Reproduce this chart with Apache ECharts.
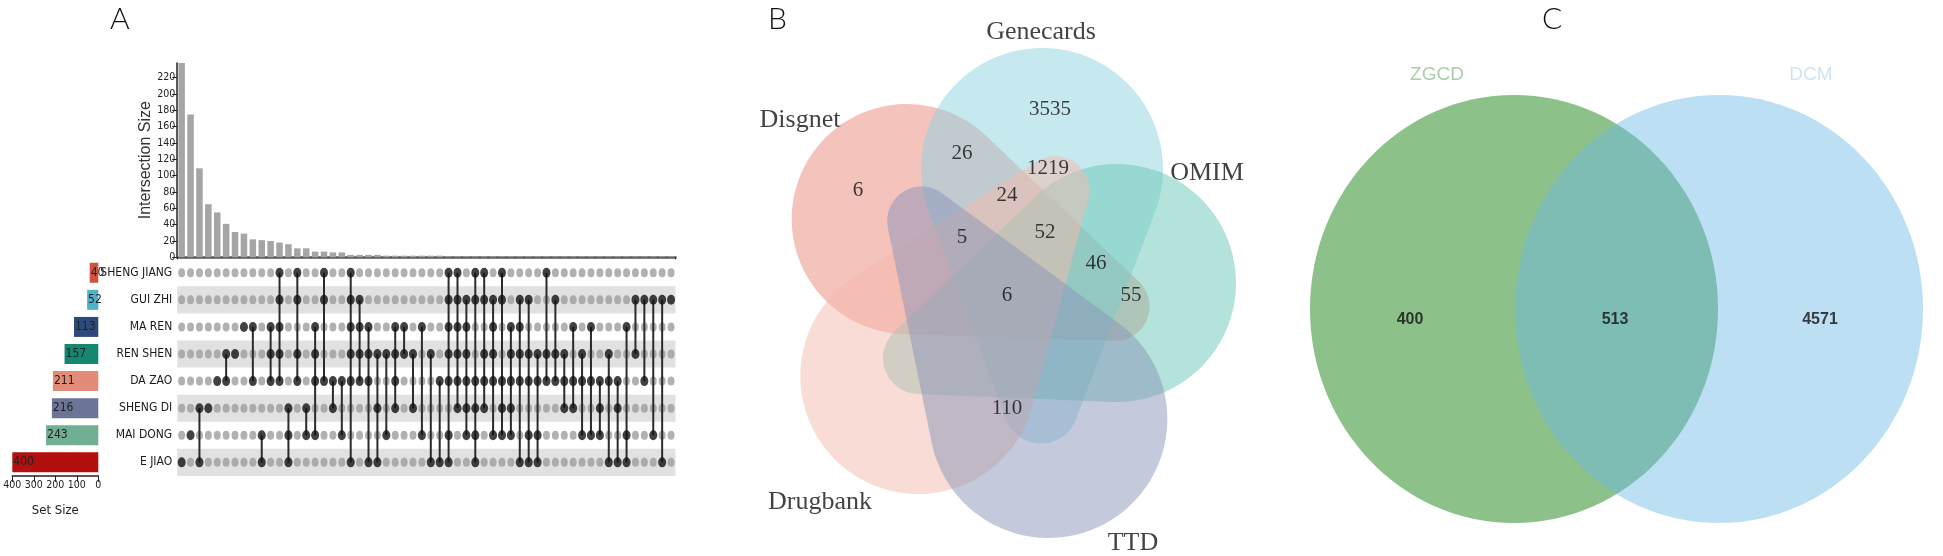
<!DOCTYPE html>
<html>
<head>
<meta charset="utf-8">
<script src="https://cdn.jsdelivr.net/npm/echarts@6/dist/echarts.min.js"></script>
<style>html,body{margin:0;padding:0;background:#fff;}#c{width:1943px;height:556px;}</style>
</head>
<body>
<div id="c"></div>
<script>
// ================= DATA =================
// Panel A (UpSet)
const setNames = ['SHENG JIANG', 'GUI ZHI', 'MA REN', 'REN SHEN', 'DA ZAO', 'SHENG DI', 'MAI DONG', 'E JIAO'];
const setSizes = [40, 52, 113, 157, 211, 216, 243, 400];
const setSizeTicks = [0, 100, 200, 300, 400];
const intersectionTicks = [0, 20, 40, 60, 80, 100, 120, 140, 160, 180, 200, 220];
// membership of each intersection column (indices into setNames)
const intersectionSets = [
  [7], [6], [5, 7], [5], [4], [3, 4], [3], [2], [2, 4], [6, 7],
  [2, 3, 4], [0, 1, 2, 3, 4], [5, 6, 7], [0, 1, 3, 4], [5, 6], [2, 3, 4, 6], [0, 1, 4], [4, 5], [4, 6], [0, 1, 2, 3, 4, 7],
  [1, 2, 3, 4], [2, 3, 4, 7], [3, 5, 7], [3, 6], [2, 3, 4, 5], [2, 3], [3, 5], [2, 6], [3, 7], [4, 7],
  [0, 1, 2, 3, 4, 6, 7], [0, 1, 2, 3, 4, 5], [1, 2, 3, 4, 5, 6], [0, 1, 4, 5, 6, 7], [0, 1, 3, 4, 5], [1, 2, 3, 4, 6], [0, 1, 4, 5, 6], [2, 3, 4, 5, 6], [1, 2, 3, 4, 7], [1, 3, 4, 6, 7],
  [3, 4, 6, 7], [0, 3, 4], [1, 3, 4], [3, 4, 5], [2, 4, 5], [3, 4, 6], [2, 4, 6], [4, 5, 6], [3, 4, 7], [4, 5, 7],
  [2, 6, 7], [1, 3], [1, 4], [1, 6], [1, 7], [1]
];
const intersectionSizes = [
  238, 175, 109, 65, 55, 41, 31, 29, 22, 21,
  20, 18, 16, 11, 11, 7, 7, 6, 6, 3,
  3, 3, 3, 2, 2, 2, 2, 2, 2, 2,
  1, 1, 1, 1, 1, 1, 1, 1, 1, 1,
  1, 1, 1, 1, 1, 1, 1, 1, 1, 1,
  1, 1, 1, 1, 1, 1
];

// Panel B (five-set Venn)
const vennBSets = ['Disgnet', 'Genecards', 'OMIM', 'Drugbank', 'TTD'];
const vennBRegions = ['Genecards', 'Disgnet∩Genecards', 'Genecards∩Drugbank', 'Disgnet', 'Disgnet∩Genecards∩Drugbank',
  'Genecards∩OMIM∩Drugbank', 'Disgnet∩Genecards∩Drugbank∩TTD', 'Genecards∩OMIM∩Drugbank∩Disgnet', 'Disgnet∩OMIM',
  'All five', 'Genecards∩TTD∩Drugbank'];
const vennBCounts = [3535, 26, 1219, 6, 24, 52, 5, 46, 55, 6, 110];

// Panel C (two-set Venn)
const vennCSets = ['ZGCD', 'DCM'];
const vennCRegions = ['ZGCD only', 'ZGCD∩DCM', 'DCM only'];
const vennCCounts = [400, 513, 4571];

// ================= LAYOUT / STYLE =================
const NARROW = "'Liberation Sans Narrow','Arial Narrow','DejaVu Sans Condensed',sans-serif";
const SERIF = "'Liberation Serif','Times New Roman',serif";
const SANS = "'Liberation Sans',Arial,sans-serif";
const setColors = ['#cf533f', '#4fb2c9', '#2e4a7b', '#13876f', '#e38b79', '#6c7597', '#70af94', '#b40f0f'];

// five-set shapes: head centre, head radius, tail centre, tail radius (page pixels)
const vennBShapes = [
  { h: [906.7, 219], R: 115, t: [1115, 306.5], r: 34.5, color: 'rgba(233,135,121,0.5)' },
  { h: [1042, 169], R: 121, t: [1041, 406], r: 37.5, color: 'rgba(141,211,225,0.5)' },
  { h: [1117, 283], R: 119, t: [919, 358], r: 36, color: 'rgba(103,199,181,0.5)' },
  { h: [918.3, 376], R: 118, t: [1055, 190.6], r: 34.5, color: 'rgba(243,185,171,0.5)' },
  { h: [1048.3, 419], R: 119, t: [921.7, 221], r: 34.5, color: 'rgba(137,147,183,0.5)' }
];
const vennBLabelPos = [[1050, 109], [962, 153], [1048, 168], [858, 190], [1007, 195], [1045, 232], [962, 237], [1096, 263], [1131, 295], [1007, 295], [1007, 408]];
const vennBSetLabelPos = [[800, 120], [1041, 32], [1207, 173], [820, 502], [1133, 543]];

const vennCCircles = [
  { c: [1514, 309], rx: 204, ry: 214, color: '#8cc28a' },
  { c: [1719, 309], rx: 204, ry: 214, color: 'rgba(109,184,229,0.45)' }
];
const vennCLabelPos = [[1410, 320], [1615, 320], [1820, 320]];
const vennCSetLabelPos = [[1437, 75], [1811, 75]];
const vennCSetColors = ['#93c292', '#c2ddf1'];

// ================= BUILD =================
const colNames = intersectionSets.map(s => s.map(i => setNames[i]).join(' & '));
const grayDots = [], blackDots = [];
intersectionSets.forEach((s, c) => {
  for (let r = 0; r < setNames.length; r++) {
    (s.indexOf(r) >= 0 ? blackDots : grayDots).push([c, r]);
  }
});
const linkData = intersectionSets.map((s, c) => [c, Math.min.apply(null, s), Math.max.apply(null, s)]);

function eggPoints(h, t, R, r, n) {
  const dx = t[0] - h[0], dy = t[1] - h[1];
  const L = Math.hypot(dx, dy);
  const ang = Math.atan2(dy, dx);
  const a = Math.acos((R - r) / L);
  const pts = [];
  for (let i = 0; i <= n; i++) {
    const th = ang + a + (2 * Math.PI - 2 * a) * i / n;
    pts.push([h[0] + R * Math.cos(th), h[1] + R * Math.sin(th)]);
  }
  for (let i = 0; i <= n; i++) {
    const th = ang - a + 2 * a * i / n;
    pts.push([t[0] + r * Math.cos(th), t[1] + r * Math.sin(th)]);
  }
  return pts;
}

const chart = echarts.init(document.getElementById('c'), null, { renderer: 'canvas', width: 1943, height: 556 });

const option = {
  backgroundColor: '#ffffff',
  animation: false,
  graphic: [
    { type: 'text', left: 110, top: 4, style: { text: 'A', font: '300 30px Lato, "Noto Sans", sans-serif', fill: '#111' } },
    { type: 'text', left: 768, top: 4, style: { text: 'B', font: '300 30px Lato, "Noto Sans", sans-serif', fill: '#111' } },
    { type: 'text', left: 1542, top: 4, style: { text: 'C', font: '300 30px Lato, "Noto Sans", sans-serif', fill: '#111' } }
  ],
  grid: [
    { left: 177.2, top: 63, width: 498.3, height: 194.3 },
    { left: 177.2, top: 259.2, width: 498.3, height: 216.7 },
    { left: 12.3, top: 259.2, width: 86, height: 216.7 },
    { left: 0, top: 0, width: 1943, height: 556 }
  ],
  xAxis: [
    { gridIndex: 0, type: 'category', data: colNames,
      axisLine: { lineStyle: { color: '#555', width: 2.5 } },
      axisTick: { show: true, length: 2, lineStyle: { color: '#222' } },
      axisLabel: { show: false } },
    { gridIndex: 1, type: 'category', data: colNames, show: false },
    { gridIndex: 2, type: 'value', inverse: true, min: 0, max: 400, interval: 100,
      axisLine: { show: true, lineStyle: { color: '#222', width: 1.5 } },
      axisTick: { show: true, length: 6, lineStyle: { color: '#222' } },
      axisLabel: { fontFamily: NARROW, fontSize: 10.5, color: '#222', margin: 4, customValues: setSizeTicks,
        showMinLabel: true, showMaxLabel: true, hideOverlap: false },
      splitLine: { show: false },
      name: 'Set Size', nameLocation: 'middle', nameGap: 28,
      nameTextStyle: { fontFamily: NARROW, fontSize: 13, color: '#222' } },
    { gridIndex: 3, type: 'value', min: 0, max: 1943, show: false }
  ],
  yAxis: [
    { gridIndex: 0, type: 'value', min: 0, max: 238, interval: 20,
      axisLine: { show: true, lineStyle: { color: '#222', width: 1.5 } },
      axisTick: { show: true, length: 5, customValues: intersectionTicks, lineStyle: { color: '#222' } },
      axisLabel: { customValues: intersectionTicks, fontFamily: NARROW, fontSize: 10.5, color: '#222', margin: 2 },
      splitLine: { show: false },
      name: 'Intersection Size', nameLocation: 'middle', nameRotate: 90, nameGap: 19,
      nameTextStyle: { fontFamily: SANS, fontSize: 16, color: '#333' } },
    { gridIndex: 1, type: 'category', data: setNames, inverse: true,
      axisLine: { show: false }, axisTick: { show: false },
      axisLabel: { interval: 0, fontFamily: NARROW, fontSize: 12, color: '#1a1a1a', margin: 5 },
      splitArea: { show: true, interval: 0, areaStyle: { color: ['rgba(255,255,255,0)', '#e1e1e1'] } } },
    { gridIndex: 2, type: 'category', data: setNames, inverse: true, show: false },
    { gridIndex: 3, type: 'value', min: 0, max: 556, inverse: true, show: false }
  ],
  series: [
    { type: 'bar', xAxisIndex: 0, yAxisIndex: 0, data: intersectionSizes, barWidth: 6.5,
      itemStyle: { color: '#a5a5a5' } },
    { type: 'custom', xAxisIndex: 1, yAxisIndex: 1, data: linkData, encode: { x: 0, y: [1, 2] }, z: 3,
      renderItem: function (params, api) {
        const p1 = api.coord([api.value(0), api.value(1)]);
        const p2 = api.coord([api.value(0), api.value(2)]);
        return { type: 'line', shape: { x1: p1[0], y1: p1[1], x2: p2[0], y2: p2[1] },
          style: { stroke: '#2b2b2b', lineWidth: 2 } };
      } },
    { type: 'scatter', xAxisIndex: 1, yAxisIndex: 1, data: grayDots, symbol: 'circle', symbolSize: [7, 9],
      itemStyle: { color: '#9e9e9e' }, z: 2 },
    { type: 'scatter', xAxisIndex: 1, yAxisIndex: 1, data: blackDots, symbol: 'circle', symbolSize: [8, 10],
      itemStyle: { color: '#111' }, z: 4 },
    { type: 'bar', xAxisIndex: 2, yAxisIndex: 2, barWidth: 20,
      data: setSizes.map((v, i) => ({ value: v, itemStyle: { color: setColors[i] } })),
      label: { show: true, position: 'insideLeft', distance: 1, fontFamily: NARROW, fontSize: 12, color: '#222' } },
    { type: 'custom', xAxisIndex: 3, yAxisIndex: 3, z: 1,
      data: vennBSets.map((n, i) => [i, 0]),
      renderItem: function (params, api) {
        const s = vennBShapes[params.dataIndex];
        const pts = eggPoints(s.h, s.t, s.R, s.r, 60).map(p => api.coord(p));
        return { type: 'polygon', shape: { points: pts }, style: { fill: s.color, stroke: 'none' } };
      } },
    { type: 'custom', xAxisIndex: 3, yAxisIndex: 3, z: 1,
      data: vennCSets.map((n, i) => [i, 0]),
      renderItem: function (params, api) {
        const s = vennCCircles[params.dataIndex];
        const c = api.coord(s.c);
        const sz = api.size([s.rx, s.ry]);
        return { type: 'ellipse', shape: { cx: c[0], cy: c[1], rx: sz[0], ry: sz[1] }, style: { fill: s.color, stroke: 'none' } };
      } },
    { type: 'scatter', xAxisIndex: 3, yAxisIndex: 3, z: 5, symbolSize: 1, itemStyle: { color: 'rgba(0,0,0,0)' },
      data: vennBCounts.map((v, i) => ({ name: vennBRegions[i], value: [vennBLabelPos[i][0], vennBLabelPos[i][1], v] })),
      label: { show: true, position: 'inside', formatter: p => String(p.value[2]), fontFamily: SERIF, fontSize: 21, color: '#111' } },
    { type: 'scatter', xAxisIndex: 3, yAxisIndex: 3, z: 5, symbolSize: 1, itemStyle: { color: 'rgba(0,0,0,0)' },
      data: vennBSets.map((n, i) => ({ name: n, value: vennBSetLabelPos[i] })),
      label: { show: true, position: 'inside', formatter: p => p.name, fontFamily: SERIF, fontSize: 26, color: '#111' } },
    { type: 'scatter', xAxisIndex: 3, yAxisIndex: 3, z: 5, symbolSize: 1, itemStyle: { color: 'rgba(0,0,0,0)' },
      data: vennCCounts.map((v, i) => ({ name: vennCRegions[i], value: [vennCLabelPos[i][0], vennCLabelPos[i][1], v] })),
      label: { show: true, position: 'inside', formatter: p => String(p.value[2]), fontFamily: SANS, fontWeight: 'bold', fontSize: 16, color: '#111' } },
    { type: 'scatter', xAxisIndex: 3, yAxisIndex: 3, z: 5, symbolSize: 1, itemStyle: { color: 'rgba(0,0,0,0)' },
      data: vennCSets.map((n, i) => ({ name: n, value: vennCSetLabelPos[i], label: { color: vennCSetColors[i] } })),
      label: { show: true, position: 'inside', formatter: p => p.name, fontFamily: SANS, fontSize: 19 } }
  ]
};
chart.setOption(option);
</script>
</body>
</html>
